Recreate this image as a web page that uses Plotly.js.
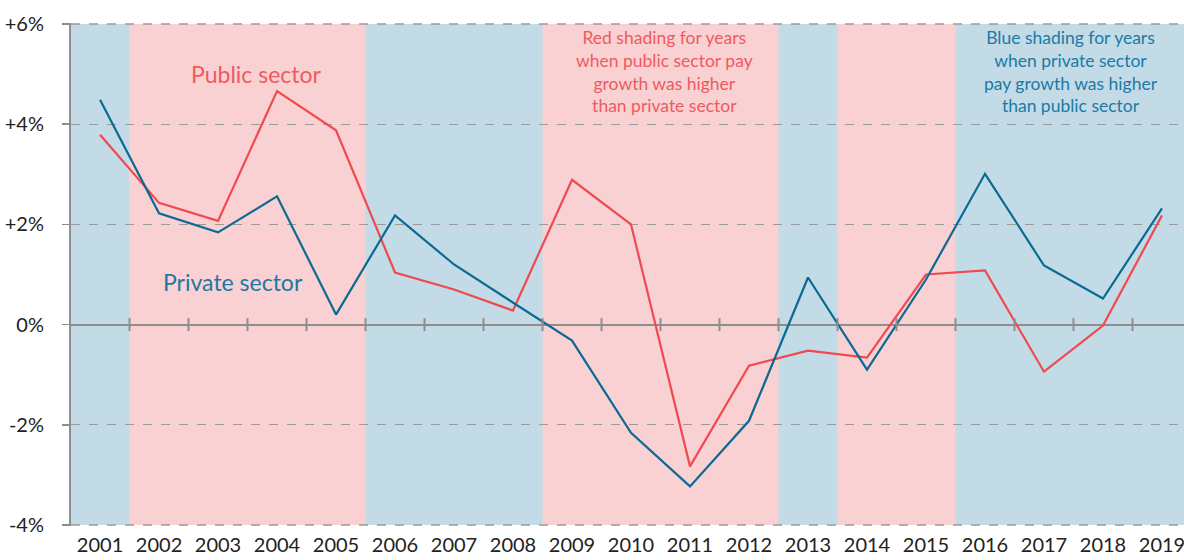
<!DOCTYPE html>
<html><head><meta charset="utf-8">
<script src="https://cdn.plot.ly/plotly-3.0.1.min.js"></script>
<style>html,body{margin:0;padding:0;background:#fff}#chart{width:1184px;height:560px}</style>
</head><body><div id="chart"></div>
<script>
const years = [2001,2002,2003,2004,2005,2006,2007,2008,2009,2010,2011,2012,2013,2014,2015,2016,2017,2018,2019];
const publicSector = [3.79,2.43,2.07,4.66,3.88,1.04,0.70,0.28,2.89,2.00,-2.83,-0.82,-0.52,-0.66,1.00,1.08,-0.94,-0.02,2.18];
const privateSector = [4.49,2.22,1.84,2.56,0.20,2.18,1.20,0.44,-0.32,-2.16,-3.23,-1.92,0.94,-0.90,0.90,3.01,1.18,0.52,2.32];
const higher = ['private','public','public','public','public','private','private','private','public','public','public','public','private','public','public','private','private','private','private'];
const yTickVals = [-4,-2,0,2,4,6];
const yTickText = ['-4%','-2%','0%','+2%','+4%','+6%'];

const FONT = 'Lato, "Open Sans", sans-serif';
const RED = '#ee4a50', BLUE = '#0b6a93';
const RED_BG = '#f9d1d3', BLUE_BG = '#c2dbe6';
const GRAY = '#8e8e8e';
const xMin = 2000.508, xMax = 2019.373;
const yMin = yTickVals[0], yMax = yTickVals[yTickVals.length-1];

const shapes = [];
// base: blue across the whole span, then red blocks over it (avoids white seams)
shapes.push({type:'rect', xref:'x', yref:'y', x0:xMin, x1:xMax, y0:yMin, y1:yMax, fillcolor:BLUE_BG, line:{width:0}, layer:'below'});
let start = 0;
for (let i = 1; i <= years.length; i++) {
  if (i === years.length || higher[i] !== higher[start]) {
    if (higher[start] === 'public') {
      shapes.push({type:'rect', xref:'x', yref:'y',
        x0:Math.max(years[start]-0.5,xMin), x1:Math.min(years[i-1]+0.5,xMax), y0:yMin, y1:yMax,
        fillcolor:RED_BG, line:{width:0}, layer:'below'});
    }
    start = i;
  }
}
[yMin, yMax].forEach(v => {
  shapes.push({type:'line', xref:'x', yref:'y', x0:xMin, x1:xMax, y0:v, y1:v, line:{color:'#9a9a9a', width:1.3, dash:'dash'}, layer:'above'});
});
years.slice(0,-1).forEach(y => {
  shapes.push({type:'line', xref:'x', yref:'y', x0:y+0.5, x1:y+0.5, y0:-0.13, y1:0.13, line:{color:GRAY, width:2}, layer:'above'});
});

const traces = [
  {x:years, y:publicSector, type:'scatter', mode:'lines', line:{color:RED, width:2.2}, hoverinfo:'skip'},
  {x:years, y:privateSector, type:'scatter', mode:'lines', line:{color:BLUE, width:2.2}, hoverinfo:'skip'}
];

const annotations = [
  {text:'Public sector', x:2003.66, y:5.0, xref:'x', yref:'y', showarrow:false, font:{family:FONT, size:23, color:'#ef5a5f'}},
  {text:'Private sector', x:2003.26, y:0.86, xref:'x', yref:'y', showarrow:false, font:{family:FONT, size:23, color:'#1b78a3'}},
  {text:'Red shading for years<br>when public sector pay<br>growth was higher<br>than private sector', x:2010.56, y:5.05, xref:'x', yref:'y', showarrow:false, align:'center',
    font:{family:FONT, size:17.5, color:'#ef5a60'}},
  {text:'Blue shading for years<br>when private sector<br>pay growth was higher<br>than public sector', x:2017.46, y:5.05, xref:'x', yref:'y', showarrow:false, align:'center',
    font:{family:FONT, size:17.5, color:'#1b7aa6'}}
];

const layout = {
  width:1184, height:560,
  margin:{l:71, r:0, t:23, b:34},
  paper_bgcolor:'#fff', plot_bgcolor:'rgba(0,0,0,0)',
  showlegend:false,
  font:{family:FONT, color:'#222'},
  xaxis:{range:[xMin,xMax], tickmode:'array', tickvals:years, ticktext:years.map(String),
    showgrid:false, zeroline:false, showline:false, ticks:'', ticklabelstandoff:5, ticklabeloverflow:'allow',
    tickfont:{family:FONT, size:20, color:'#222'}, fixedrange:true},
  yaxis:{range:[-4.02,6.02], tickmode:'array', tickvals:yTickVals, ticktext:yTickText,
    showgrid:true, gridcolor:'#9a9a9a', griddash:'dash', gridwidth:1.3,
    zeroline:true, zerolinecolor:GRAY, zerolinewidth:2,
    showline:true, linecolor:GRAY, linewidth:2,
    ticks:'outside', ticklen:7, tickcolor:GRAY, tickwidth:1.5, ticklabelstandoff:14,
    tickfont:{family:FONT, size:20, color:'#222'}, fixedrange:true},
  shapes:shapes,
  annotations:annotations
};
Plotly.newPlot('chart', traces, layout, {displayModeBar:false, staticPlot:true});
</script></body></html>
